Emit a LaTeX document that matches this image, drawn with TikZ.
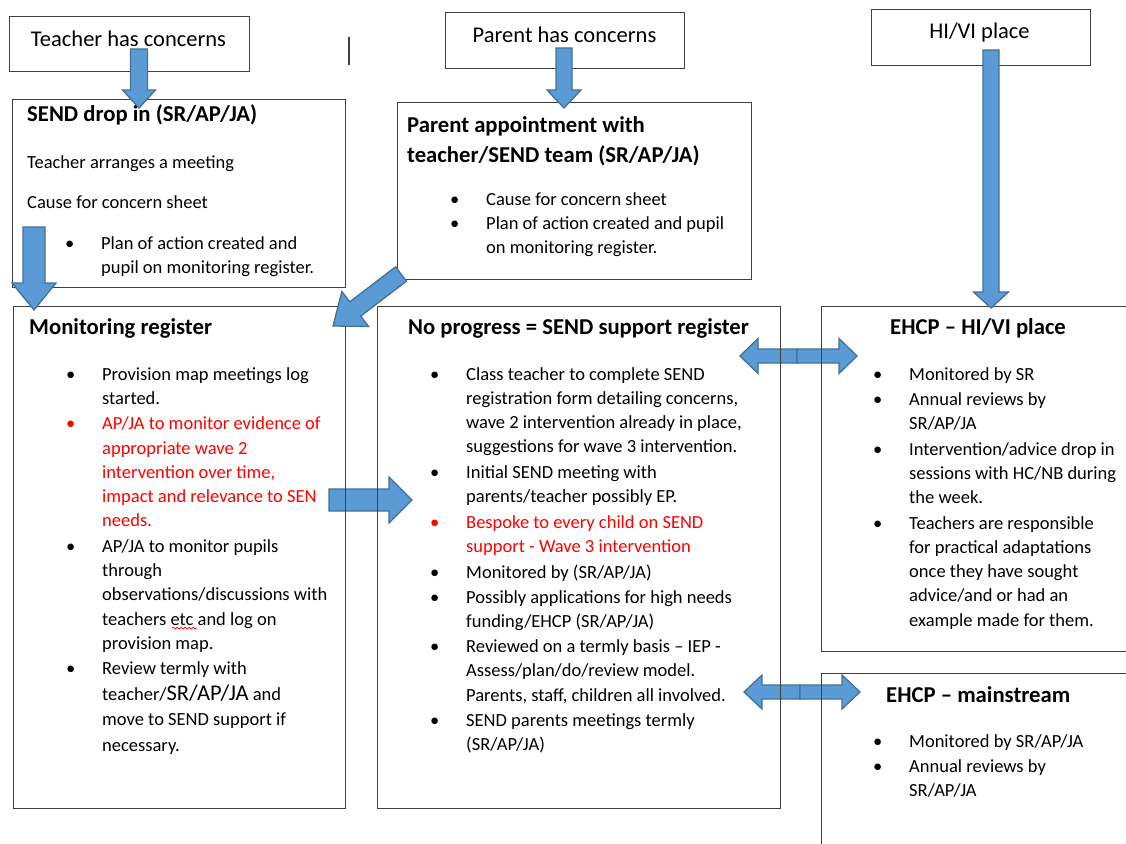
\documentclass[tikz,border=0pt]{standalone}
\usepackage{fontspec}
\setmainfont{Carlito}
\usetikzlibrary{calc,decorations.pathmorphing}
\definecolor{arrfill}{HTML}{5B9BD5}
\definecolor{arrline}{HTML}{41719C}
\definecolor{boxline}{HTML}{404040}
\definecolor{redtxt}{HTML}{FF0000}
\newlength\bulw \setlength\bulw{36pt}
\newcommand\bitem{\makebox[\bulw][l]{\textbullet}}
\newcommand\bcont{\hspace*{\bulw}}
\newcommand\titlef{\fontsize{22.7}{30}\selectfont\bfseries}
\newcommand\bodyf{\fontsize{18.5}{24.2}\selectfont}
\newcommand\bigf{\fontsize{22.5}{27}\selectfont}
\newcommand\blockarrow[6]{%
  \coordinate (#1-hb) at ($(#3)!#6!(#2)$);
  \draw[barrow] ($(#2)!#4!90:(#3)$) -- ($(#1-hb)!#4!-90:(#2)$) -- ($(#1-hb)!#5!-90:(#2)$) -- (#3) -- ($(#1-hb)!#5!90:(#2)$) -- ($(#1-hb)!#4!90:(#2)$) -- ($(#2)!#4!-90:(#3)$) -- cycle;}
\newcommand\boxnode[5]{%
  \node[boxst, anchor=north west, minimum width={(#4-#2)*1pt}, minimum height={(#5-#3)*1pt}] (#1) at (#2,#3) {};}
\begin{document}
\begin{tikzpicture}[x=1pt,y=-1pt,
  boxst/.style={draw=boxline, line width=1.3pt, inner sep=0pt},
  barrow/.style={fill=arrfill, draw=arrline, line width=1.3pt, line join=miter},
  txt/.style={inner sep=0pt, font=\bodyf, text=black},
  ttl/.style={inner sep=0pt, font=\titlef, text=black},
  toptxt/.style={inner sep=0pt, font=\fontsize{22.5}{27}\selectfont, text=black}]
\useasboundingbox (0,0) rectangle (1126,843);
\clip (0,0) rectangle (1126,843);
\fill[white] (0,0) rectangle (1126,843);

% arrow end points
\coordinate (a6s) at (329,500); \coordinate (a6e) at (412,500);
\coordinate (a7m) at (797,356); \coordinate (a7l) at (740,356); \coordinate (a7r) at (857,356);
\coordinate (a8m) at (800,692); \coordinate (a8l) at (744,692); \coordinate (a8r) at (860,692);

% arrows behind the boxes
\blockarrow{a6}{a6s}{a6e}{11pt}{23pt}{23pt}
\blockarrow{a7a}{a7m}{a7l}{7pt}{17.5pt}{18pt}
\blockarrow{a7b}{a7m}{a7r}{7pt}{17.5pt}{18pt}
\blockarrow{a8a}{a8m}{a8l}{7pt}{17pt}{18pt}
\blockarrow{a8b}{a8m}{a8r}{7pt}{17pt}{18pt}

% boxes
\boxnode{tc}{9}{16}{249}{71}
\boxnode{pc}{445}{12}{684}{68}
\boxnode{hv}{871}{9}{1090}{65}
\boxnode{sd}{12}{99}{345}{287}
\boxnode{pa}{397}{102}{751}{279}
\boxnode{mr}{13}{306}{345}{808}
\boxnode{np}{377}{306}{780}{808}
\boxnode{eh}{821}{306}{1140}{651}
\boxnode{em}{821}{673}{1140}{860}
\draw[boxline, line width=1.3pt] (349,37) coordinate (st1) -- (349,65) coordinate (st2);

% top texts
\node[toptxt, anchor=base] (tc-t) at (128.5,47) {Teacher has concerns};
\node[toptxt, anchor=base] (pc-t) at (564.5,42) {Parent has concerns};
\node[toptxt, anchor=base] (hv-t) at (979.5,38) {HI/VI place};

% SEND drop in
\node[ttl, anchor=base west] (sd-t) at (27,121) {SEND drop in (SR/AP/JA)};
\node[txt, anchor=base west] (sd-1) at (27,168) {Teacher arranges a meeting};
\node[txt, anchor=base west] (sd-2) at (27,208) {Cause for concern sheet};
\node[txt, anchor=base west] (sd-b) at (65,249) {\parbox[t]{280pt}{\bitem Plan of action created and\\ \bcont pupil on monitoring register.}};

% Parent appointment
\node[ttl, anchor=base west] (pa-t) at (407,132) {\parbox[t]{340pt}{Parent appointment with\\ teacher/SEND team (SR/AP/JA)}};
\node[txt, anchor=base west] (pa-b) at (450,205) {\parbox[t]{300pt}{\bitem Cause for concern sheet\\ \bitem Plan of action created and pupil\\ \bcont on monitoring register.}};

% Monitoring register
\node[ttl, anchor=base west] (mr-t) at (29,334) {Monitoring register};
\node[txt, anchor=base west] (mr-b) at (66,380) {\parbox[t]{300pt}{%
\bitem Provision map meetings log\\ \bcont started.\\[1.5pt]
{\color{redtxt}\bitem AP/JA to monitor evidence of\\ \bcont appropriate wave 2\\ \bcont intervention over time,\\ \bcont impact and relevance to SEN\\ \bcont needs.}\\[1.5pt]
\bitem AP/JA to monitor pupils\\ \bcont through\\ \bcont observations/discussions with\\ \bcont teachers etc and log on\\ \bcont provision map.\\[1.5pt]
\bitem Review termly with\\[1pt] \bcont teacher/{\bigf SR/AP/JA} and\\[1.5pt] \bcont move to SEND support if\\[1.5pt] \bcont necessary.}};
\draw[redtxt, line width=0.7pt, decorate, decoration={snake, amplitude=1pt, segment length=4pt}] (172,628) coordinate (sq1) -- (197,628) coordinate (sq2);

% No progress
\node[ttl, anchor=base] (np-t) at (578.5,334) {No progress = SEND support register};
\node[txt, anchor=base west] (np-b) at (430,380) {\parbox[t]{340pt}{%
\bitem Class teacher to complete SEND\\ \bcont registration form detailing concerns,\\ \bcont wave 2 intervention already in place,\\ \bcont suggestions for wave 3 intervention.\\[1.5pt]
\bitem Initial SEND meeting with\\ \bcont parents/teacher possibly EP.\\[1.5pt]
{\color{redtxt}\bitem Bespoke to every child on SEND\\ \bcont support - Wave 3 intervention}\\[1.5pt]
\bitem Monitored by (SR/AP/JA)\\[1pt]
\bitem Possibly applications for high needs\\ \bcont funding/EHCP (SR/AP/JA)\\[1pt]
\bitem Reviewed on a termly basis – IEP -\\ \bcont Assess/plan/do/review model.\\ \bcont Parents, staff, children all involved.\\[1pt]
\bitem SEND parents meetings termly\\ \bcont (SR/AP/JA)}};

% EHCP HI/VI
\node[ttl, anchor=base west] (eh-t) at (890,334) {EHCP – HI/VI place};
\node[txt, anchor=base west] (eh-b) at (873,380) {\parbox[t]{250pt}{%
\bitem Monitored by SR\\[1pt]
\bitem Annual reviews by\\ \bcont SR/AP/JA\\[1.5pt]
\bitem Intervention/advice drop in\\ \bcont sessions with HC/NB during\\ \bcont the week.\\[1.5pt]
\bitem Teachers are responsible\\ \bcont for practical adaptations\\ \bcont once they have sought\\ \bcont advice/and or had an\\ \bcont example made for them.}};

% EHCP mainstream
\node[ttl, anchor=base west] (em-t) at (886,702) {EHCP – mainstream};
\node[txt, anchor=base west] (em-b) at (873,747) {\parbox[t]{250pt}{%
\bitem Monitored by SR/AP/JA\\[1pt]
\bitem Annual reviews by\\ \bcont SR/AP/JA}};

% arrows on top
\coordinate (a1s) at (139,49); \coordinate (a1e) at (139,108);
\coordinate (a2s) at (34,227); \coordinate (a2e) at (34,310);
\coordinate (a3s) at (564,48); \coordinate (a3e) at (564,108);
\coordinate (a4s) at (401,274); \coordinate (a4e) at (333,326);
\coordinate (a5s) at (991,50); \coordinate (a5e) at (991,308);
\blockarrow{a1}{a1s}{a1e}{8.5pt}{16.5pt}{18pt}
\blockarrow{a2}{a2s}{a2e}{11pt}{22pt}{27pt}
\blockarrow{a3}{a3s}{a3e}{8pt}{17pt}{18pt}
\blockarrow{a4}{a4s}{a4e}{9pt}{22pt}{28pt}
\blockarrow{a5}{a5s}{a5e}{8pt}{17.5pt}{16pt}
\end{tikzpicture}
\end{document}
